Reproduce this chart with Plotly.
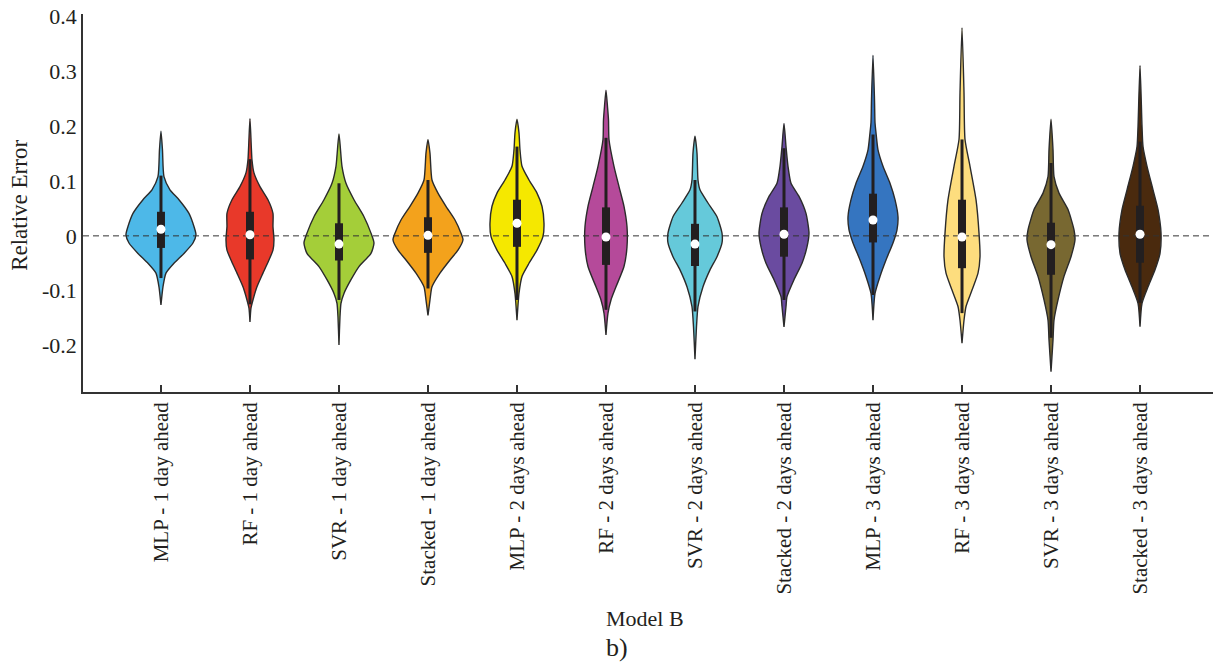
import plotly.graph_objects as go

categories = ["MLP - 1 day ahead", "RF - 1 day ahead", "SVR - 1 day ahead", "Stacked - 1 day ahead",
              "MLP - 2 days ahead", "RF - 2 days ahead", "SVR - 2 days ahead", "Stacked - 2 days ahead",
              "MLP - 3 days ahead", "RF - 3 days ahead", "SVR - 3 days ahead", "Stacked - 3 days ahead"]

colors = ["#4DB8E8", "#E8392A", "#A4CE39", "#F3A21C", "#F5E800", "#B54A9A",
          "#65C9DA", "#6A4BA0", "#3575C0", "#FDDD7E", "#786831", "#4A2A0E"]

# violin profiles: relative-error levels and estimated density (half-width) at each level
mlp1_y = [0.191, 0.157, 0.108, 0.084, 0.066, 0.041, 0.017, 0.002, -0.013, -0.032, -0.050, -0.068, -0.093, -0.126]
mlp1_d = [0, 1.5, 3, 9, 18, 28, 33, 35, 32, 23, 13, 5, 2, 0]
rf1_y = [0.214, 0.139, 0.115, 0.090, 0.066, 0.041, 0.017, -0.007, -0.026, -0.044, -0.068, -0.093, -0.117, -0.132, -0.157]
rf1_d = [0, 2, 4, 10, 18, 23, 23, 24, 23, 19, 13, 7, 3, 1, 0]
svr1_y = [0.186, 0.127, 0.096, 0.066, 0.035, 0.005, -0.013, -0.032, -0.056, -0.080, -0.105, -0.123, -0.148, -0.199]
svr1_d = [0, 3, 7, 15, 25, 32, 35, 32, 20, 12, 5, 2, 1, 0]
stk1_y = [0.176, 0.151, 0.102, 0.078, 0.054, 0.029, 0.005, -0.007, -0.026, -0.044, -0.068, -0.093, -0.117, -0.145]
stk1_d = [0, 2, 4, 10, 18, 27, 33, 35, 30, 22, 12, 4, 2, 0]
mlp2_y = [0.213, 0.188, 0.157, 0.127, 0.102, 0.078, 0.054, 0.023, -0.001, -0.026, -0.050, -0.074, -0.105, -0.154]
mlp2_d = [0, 2, 3, 5, 12, 20, 25, 27, 26, 20, 12, 5, 2, 0]
rf2_y = [0.266, 0.236, 0.212, 0.176, 0.127, 0.090, 0.054, 0.017, -0.020, -0.056, -0.093, -0.117, -0.141, -0.181]
rf2_d = [0, 1.5, 2.5, 3, 8, 13, 18, 21, 21, 18, 10, 5, 2, 0]
svr2_y = [0.182, 0.151, 0.102, 0.084, 0.060, 0.035, 0.005, -0.013, -0.038, -0.062, -0.093, -0.129, -0.166, -0.225]
svr2_d = [0, 2, 3, 5, 13, 22, 27, 27, 22, 15, 8, 3, 1.5, 0]
stk2_y = [0.205, 0.163, 0.127, 0.096, 0.072, 0.041, 0.005, -0.020, -0.050, -0.080, -0.111, -0.129, -0.166]
stk2_d = [0, 2, 4, 7, 15, 22, 25, 23, 18, 10, 3, 2, 0]
mlp3_y = [0.330, 0.249, 0.207, 0.188, 0.157, 0.127, 0.096, 0.066, 0.035, 0.011, -0.013, -0.044, -0.074, -0.105, -0.154]
mlp3_d = [0, 1.5, 2, 3, 5, 10, 17, 22, 25, 24, 20, 13, 7, 2, 0]
rf3_y = [0.380, 0.261, 0.176, 0.127, 0.066, 0.005, -0.038, -0.068, -0.099, -0.129, -0.154, -0.196]
rf3_d = [0, 2, 3, 8, 14, 17, 18, 16, 10, 4, 2, 0]
svr3_y = [0.213, 0.157, 0.108, 0.078, 0.048, 0.011, -0.007, -0.038, -0.074, -0.117, -0.154, -0.190, -0.248]
svr3_d = [0, 2, 3, 8, 17, 23, 24, 20, 13, 7, 3, 2, 0]
stk3_y = [0.311, 0.200, 0.163, 0.127, 0.084, 0.048, 0.005, -0.032, -0.062, -0.093, -0.123, -0.166]
stk3_d = [0, 2, 3, 7, 13, 18, 21, 20, 15, 8, 2, 0]

# box-plot statistics
q3 = [0.044, 0.044, 0.023, 0.034, 0.066, 0.052, 0.022, 0.052, 0.077, 0.066, 0.024, 0.055]
q1 = [-0.022, -0.043, -0.045, -0.031, -0.020, -0.053, -0.055, -0.038, -0.012, -0.059, -0.071, -0.049]
median = [0.012, 0.002, -0.015, 0.001, 0.023, -0.002, -0.015, 0.003, 0.029, -0.002, -0.016, 0.003]
whisker_hi = [0.110, 0.140, 0.096, 0.102, 0.163, 0.179, 0.102, 0.160, 0.185, 0.176, 0.133, 0.172]
whisker_lo = [-0.077, -0.125, -0.117, -0.096, -0.117, -0.135, -0.138, -0.117, -0.108, -0.141, -0.186, -0.122]

y_ticks = [-0.2, -0.1, 0, 0.1, 0.2, 0.3, 0.4]
y_ticktext = ["-0.2", "-0.1", "0", "0.1", "0.2", "0.3", "0.4"]

profiles_y = [mlp1_y, rf1_y, svr1_y, stk1_y, mlp2_y, rf2_y, svr2_y, stk2_y, mlp3_y, rf3_y, svr3_y, stk3_y]
profiles_d = [mlp1_d, rf1_d, svr1_d, stk1_d, mlp2_d, rf2_d, svr2_d, stk2_d, mlp3_d, rf3_d, svr3_d, stk3_d]

FONT = "Liberation Serif, Times New Roman, serif"
TXT = "#231F20"
DSCALE = 1.0 / 89.0  # density -> category-width units
XR = [-0.876, 11.82]

fig = go.Figure()

for i, (ys, ds) in enumerate(zip(profiles_y, profiles_d)):
    xs = [i + d * DSCALE for d in ds] + [i - d * DSCALE for d in reversed(ds)]
    yy = list(ys) + list(reversed(ys))
    fig.add_trace(go.Scatter(x=xs, y=yy, mode="lines", fill="toself", fillcolor=colors[i],
                             line=dict(color="#2b2b2b", width=1.4, shape="spline", smoothing=0.6),
                             hoverinfo="skip", showlegend=False))

# zero reference line
fig.add_trace(go.Scatter(x=XR, y=[0, 0], mode="lines",
                         line=dict(color="#333333", width=1, dash="6px,4px"),
                         hoverinfo="skip", showlegend=False))

# whiskers and boxes
wx, wy = [], []
bx, by = [], []
for i in range(len(categories)):
    wx += [i, i, None]
    wy += [whisker_lo[i], whisker_hi[i], None]
    bx += [i, i, None]
    by += [q1[i], q3[i], None]
fig.add_trace(go.Scatter(x=wx, y=wy, mode="lines", line=dict(color="#231F20", width=3),
                         hoverinfo="skip", showlegend=False))
fig.add_trace(go.Scatter(x=bx, y=by, mode="lines", line=dict(color="#231F20", width=8),
                         hoverinfo="skip", showlegend=False))
fig.add_trace(go.Scatter(x=list(range(len(categories))), y=median, mode="markers",
                         marker=dict(color="white", size=9, line=dict(width=0)),
                         hoverinfo="skip", showlegend=False))

fig.update_layout(
    width=1220, height=668,
    margin=dict(l=83, r=7, t=14, b=276),
    paper_bgcolor="white", plot_bgcolor="white",
    font=dict(family=FONT, color=TXT, size=21),
    xaxis=dict(range=XR, tickmode="array", tickvals=list(range(len(categories))), ticktext=categories,
               tickangle=-90, ticks="inside", ticklen=7, tickwidth=1.5, tickcolor="#333",
               showline=True, linecolor="#333", linewidth=1.5, showgrid=False, zeroline=False,
               automargin=False,
               tickfont=dict(size=21, family=FONT, color=TXT)),
    yaxis=dict(range=[-0.285, 0.405], tickmode="array", tickvals=y_ticks, ticktext=y_ticktext,
               ticks="", showline=True, linecolor="#333", linewidth=1.5, showgrid=False, zeroline=False,
               automargin=False, ticklabeloverflow="allow",
               tickfont=dict(size=22, family=FONT, color=TXT)),
    annotations=[
        dict(text="Relative Error", xref="paper", yref="paper", x=-0.0558, y=0.495, textangle=-90,
             showarrow=False, font=dict(size=23, family=FONT, color=TXT), xanchor="center", yanchor="middle"),
        dict(text="Model B", xref="paper", yref="paper", x=0.497, y=-0.598, showarrow=False,
             font=dict(size=22, family=FONT, color=TXT), xanchor="center", yanchor="middle"),
        dict(text="b)", xref="paper", yref="paper", x=0.4726, y=-0.677, showarrow=False,
             font=dict(size=26, family=FONT, color=TXT), xanchor="center", yanchor="middle"),
    ],
)

fig.write_html("out.html", config={"displayModeBar": False},
               post_script="document.body.style.margin='0';document.body.style.overflow='hidden';")
